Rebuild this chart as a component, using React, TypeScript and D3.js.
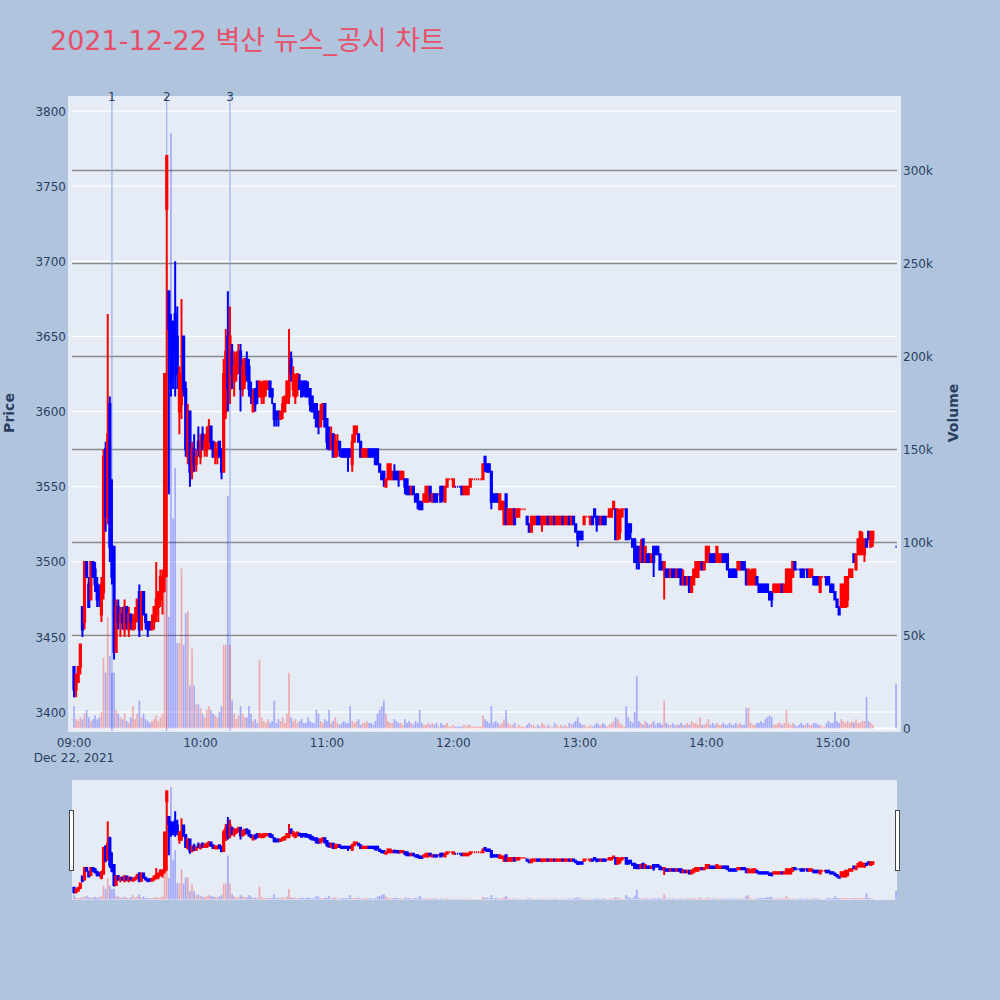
import React from 'react';
import * as d3 from 'd3';

// 1-minute bars of 2021-12-22, minutes after 09:00 (15:20-15:29 no trades, 15:30 closing auction)
const minutes = [...d3.range(0, 380), 390];

// [open, high, low, close]
const candles: [number, number, number, number][] = [
  [3430,3430,3410,3415],[3415,3425,3410,3425],[3420,3430,3420,3430],[3430,3445,3425,3445],[3470,3470,3450,3455],
  [3460,3500,3455,3500],[3500,3500,3490,3490],[3485,3490,3470,3470],[3475,3500,3475,3500],[3500,3500,3490,3490],
  [3495,3500,3480,3485],[3485,3490,3470,3475],[3480,3485,3470,3475],[3465,3490,3460,3485],[3480,3575,3475,3570],
  [3575,3580,3520,3530],[3530,3665,3525,3585],[3605,3610,3500,3510],[3510,3555,3485,3490],[3510,3510,3435,3440],
  [3440,3475,3440,3470],[3470,3475,3455,3460],[3460,3470,3450,3465],[3465,3470,3455,3460],[3455,3475,3450,3470],
  [3470,3470,3455,3460],[3455,3470,3450,3465],[3465,3465,3455,3460],[3455,3465,3455,3460],[3460,3470,3455,3465],
  [3465,3475,3460,3475],[3480,3485,3450,3455],[3455,3480,3455,3480],[3480,3480,3465,3465],[3465,3465,3455,3460],
  [3460,3460,3450,3455],[3460,3460,3455,3455],[3455,3465,3455,3460],[3460,3470,3455,3470],[3465,3500,3460,3475],
  [3470,3480,3460,3480],[3475,3495,3470,3490],[3480,3495,3465,3490],[3490,3625,3480,3625],[3735,3770,3490,3770],
  [3680,3680,3545,3655],[3655,3665,3610,3620],[3660,3660,3615,3625],[3665,3700,3610,3640],[3650,3670,3615,3625],
  [3600,3630,3585,3625],[3605,3675,3595,3620],[3650,3650,3610,3615],[3615,3620,3570,3575],[3570,3605,3565,3600],
  [3600,3600,3550,3560],[3560,3580,3555,3575],[3575,3585,3560,3565],[3565,3575,3560,3570],[3580,3590,3570,3575],
  [3570,3585,3565,3580],[3585,3590,3575,3575],[3575,3585,3570,3580],[3575,3590,3570,3585],[3580,3595,3575,3590],
  [3590,3590,3575,3580],[3580,3580,3570,3570],[3570,3580,3565,3575],[3570,3580,3565,3575],[3580,3580,3570,3570],
  [3575,3575,3555,3560],[3560,3635,3560,3625],[3600,3655,3595,3640],[3650,3680,3600,3615],[3615,3670,3605,3650],
  [3640,3645,3615,3625],[3620,3640,3610,3630],[3625,3640,3620,3635],[3630,3645,3625,3640],[3640,3645,3600,3615],
  [3615,3635,3610,3630],[3620,3635,3615,3635],[3635,3640,3620,3625],[3630,3635,3610,3615],[3615,3620,3605,3610],
  [3600,3615,3600,3610],[3615,3615,3600,3605],[3620,3620,3605,3610],[3610,3620,3610,3620],[3610,3620,3605,3615],
  [3610,3620,3605,3620],[3615,3620,3610,3620],[3615,3620,3615,3620],[3620,3620,3610,3610],[3615,3615,3605,3610],
  [3605,3605,3590,3595],[3600,3600,3590,3595],[3600,3600,3590,3595],[3595,3600,3595,3600],[3600,3610,3595,3605],
  [3600,3610,3600,3610],[3610,3620,3605,3620],[3610,3655,3605,3620],[3635,3640,3620,3625],[3615,3630,3610,3625],
  [3610,3625,3605,3620],[3615,3625,3610,3625],[3620,3625,3615,3615],[3620,3620,3610,3610],[3620,3620,3610,3615],
  [3620,3620,3610,3610],[3615,3620,3610,3610],[3615,3615,3600,3605],[3610,3610,3600,3600],[3605,3605,3595,3600],
  [3605,3605,3590,3590],[3600,3600,3585,3590],[3590,3605,3590,3600],[3595,3605,3595,3605],[3605,3605,3590,3590],
  [3595,3595,3575,3580],[3585,3590,3575,3575],[3575,3590,3575,3585],[3585,3585,3570,3570],[3570,3585,3570,3580],
  [3575,3585,3570,3580],[3580,3580,3570,3575],[3575,3575,3570,3570],[3575,3575,3570,3570],[3575,3575,3570,3570],
  [3575,3575,3560,3570],[3575,3575,3570,3570],[3565,3585,3560,3580],[3580,3590,3580,3590],[3585,3590,3585,3590],
  [3585,3585,3580,3580],[3580,3580,3570,3570],[3570,3575,3570,3575],[3570,3575,3570,3575],[3570,3575,3570,3575],
  [3575,3575,3570,3570],[3575,3575,3570,3570],[3575,3575,3570,3570],[3575,3575,3565,3565],[3575,3575,3565,3565],
  [3565,3565,3560,3560],[3560,3560,3555,3555],[3560,3560,3550,3555],[3550,3555,3550,3555],[3555,3565,3555,3565],
  [3555,3565,3555,3565],[3555,3560,3555,3560],[3560,3565,3555,3555],[3560,3560,3555,3555],[3560,3560,3550,3555],
  [3555,3560,3555,3560],[3555,3560,3555,3560],[3555,3555,3545,3550],[3555,3555,3545,3545],[3550,3550,3545,3545],
  [3545,3550,3545,3550],[3550,3550,3545,3545],[3545,3545,3540,3540],[3545,3545,3535,3540],[3540,3540,3535,3535],
  [3540,3540,3535,3535],[3540,3545,3540,3545],[3540,3550,3540,3550],[3540,3550,3540,3550],[3550,3550,3540,3545],
  [3540,3545,3540,3545],[3545,3545,3540,3540],[3545,3545,3540,3540],[3545,3545,3545,3545],[3550,3550,3540,3540],
  [3550,3550,3540,3545],[3540,3550,3540,3550],[3550,3555,3550,3555],[3555,3555,3555,3555],[3555,3555,3555,3555],
  [3550,3555,3550,3555],[3550,3550,3550,3550],[3550,3550,3550,3550],[3550,3550,3550,3550],[3550,3550,3545,3545],
  [3545,3550,3545,3550],[3545,3550,3545,3550],[3545,3550,3545,3550],[3550,3555,3550,3555],[3555,3555,3555,3555],
  [3555,3555,3555,3555],[3555,3555,3555,3555],[3555,3555,3555,3555],[3555,3555,3555,3555],[3555,3565,3555,3565],
  [3570,3570,3560,3565],[3565,3565,3560,3560],[3565,3565,3560,3560],[3560,3560,3535,3540],[3545,3545,3540,3540],
  [3545,3545,3540,3540],[3545,3545,3540,3540],[3535,3545,3535,3545],[3535,3540,3535,3540],[3525,3540,3525,3540],
  [3545,3545,3525,3525],[3525,3535,3525,3535],[3525,3535,3525,3535],[3525,3535,3525,3535],[3535,3535,3525,3525],
  [3530,3535,3530,3535],[3530,3535,3530,3535],[3535,3535,3535,3535],[3535,3535,3535,3535],[3535,3535,3535,3535],
  [3530,3530,3525,3525],[3525,3525,3520,3520],[3520,3530,3520,3530],[3525,3530,3525,3530],[3525,3530,3525,3530],
  [3530,3530,3525,3525],[3530,3530,3525,3525],[3525,3530,3520,3530],[3525,3530,3525,3530],[3525,3530,3525,3530],
  [3530,3530,3525,3525],[3525,3530,3525,3530],[3525,3530,3525,3530],[3530,3530,3525,3525],[3525,3530,3525,3530],
  [3525,3530,3525,3530],[3525,3530,3525,3530],[3530,3530,3525,3525],[3525,3530,3525,3530],[3525,3530,3525,3530],
  [3530,3530,3525,3525],[3525,3530,3525,3530],[3530,3530,3525,3525],[3525,3525,3520,3520],[3520,3520,3510,3515],
  [3520,3520,3515,3515],[3520,3520,3515,3515],[3525,3530,3525,3530],[3530,3530,3530,3530],[3530,3530,3530,3530],
  [3525,3530,3525,3530],[3530,3530,3525,3525],[3535,3535,3530,3530],[3530,3530,3520,3525],[3530,3530,3525,3525],
  [3525,3530,3525,3530],[3530,3530,3525,3525],[3530,3530,3525,3525],[3530,3530,3530,3530],[3530,3535,3530,3535],
  [3530,3535,3530,3535],[3535,3540,3535,3540],[3535,3535,3515,3515],[3515,3535,3515,3535],[3520,3535,3515,3530],
  [3530,3535,3530,3535],[3535,3535,3535,3535],[3535,3535,3515,3515],[3525,3525,3515,3515],[3525,3525,3515,3520],
  [3515,3515,3510,3510],[3515,3515,3500,3500],[3510,3510,3495,3500],[3510,3510,3495,3500],[3500,3515,3500,3510],
  [3515,3515,3500,3500],[3500,3510,3500,3510],[3505,3505,3500,3500],[3505,3505,3500,3500],[3500,3505,3500,3505],
  [3510,3510,3490,3500],[3510,3510,3505,3505],[3510,3510,3505,3505],[3505,3505,3495,3495],[3500,3500,3495,3495],
  [3495,3500,3475,3500],[3495,3495,3490,3490],[3495,3495,3490,3490],[3490,3495,3490,3495],[3495,3495,3490,3490],
  [3495,3495,3490,3490],[3490,3495,3490,3495],[3495,3495,3490,3490],[3495,3495,3485,3485],[3485,3495,3485,3490],
  [3490,3490,3485,3485],[3485,3490,3485,3490],[3490,3490,3480,3480],[3480,3490,3480,3490],[3485,3495,3485,3495],
  [3490,3500,3490,3500],[3490,3500,3490,3500],[3495,3500,3495,3500],[3500,3500,3495,3495],[3495,3500,3495,3500],
  [3500,3510,3500,3510],[3500,3510,3500,3510],[3505,3505,3500,3500],[3505,3505,3500,3500],[3505,3505,3500,3500],
  [3500,3510,3500,3510],[3500,3505,3500,3505],[3500,3505,3500,3505],[3505,3505,3500,3500],[3505,3505,3500,3500],
  [3505,3505,3495,3495],[3495,3495,3490,3490],[3495,3495,3490,3490],[3495,3495,3490,3490],[3495,3495,3490,3490],
  [3495,3500,3495,3500],[3495,3500,3495,3500],[3500,3500,3495,3495],[3500,3500,3495,3495],[3495,3495,3485,3485],
  [3485,3495,3485,3495],[3485,3495,3485,3490],[3485,3495,3485,3495],[3485,3495,3485,3495],[3490,3490,3485,3485],
  [3485,3485,3480,3480],[3485,3485,3480,3480],[3485,3485,3480,3480],[3485,3485,3480,3480],[3485,3485,3480,3480],
  [3480,3480,3475,3475],[3480,3480,3470,3475],[3480,3485,3480,3485],[3480,3485,3480,3485],[3480,3485,3480,3485],
  [3480,3485,3480,3485],[3485,3485,3480,3480],[3480,3485,3480,3485],[3480,3495,3480,3495],[3480,3495,3480,3495],
  [3480,3495,3480,3495],[3490,3500,3490,3500],[3500,3500,3495,3495],[3495,3495,3495,3495],[3495,3495,3495,3495],
  [3495,3495,3490,3490],[3495,3495,3490,3490],[3495,3495,3495,3495],[3495,3495,3490,3490],[3490,3495,3490,3495],
  [3490,3495,3490,3495],[3490,3490,3485,3485],[3490,3490,3485,3485],[3490,3490,3485,3485],[3480,3490,3480,3490],
  [3490,3490,3490,3490],[3490,3490,3490,3490],[3490,3490,3485,3485],[3490,3490,3485,3485],[3485,3485,3480,3480],
  [3485,3485,3480,3480],[3480,3480,3475,3475],[3475,3475,3470,3470],[3470,3470,3465,3465],[3470,3485,3470,3485],
  [3470,3485,3470,3485],[3470,3490,3470,3490],[3475,3490,3470,3490],[3490,3495,3490,3495],[3490,3495,3490,3495],
  [3505,3505,3500,3500],[3495,3505,3495,3505],[3505,3515,3505,3515],[3505,3520,3505,3520],[3505,3520,3505,3510],
  [3505,3515,3500,3515],[3515,3515,3510,3510],[3520,3520,3515,3515],[3510,3520,3510,3520],[3515,3520,3510,3520],
  [3510,3510,3510,3510],
];

// volume per minute, thousands of shares
const volumesK = [
  12,5,4,6,5,8,10,6,4,5, 7,5,6,9,38,30,60,39,30,30, 10,8,6,5,8,4,3,6,12,5, 8,15,6,8,5,4,3,4,5,7,
  4,6,8,150,250,60,320,113,140,46, 46,86,45,62,63,23,43,23,13,13, 11,8,6,10,12,10,8,7,6,9, 12,45,45,125,45,15,8,5,7,12,
  8,6,6,12,8,4,5,3,37,6, 4,3,5,3,4,15,3,5,4,6, 3,8,30,6,4,5,3,4,5,3, 3,6,4,3,3,10,8,4,3,5,
  4,10,3,4,6,3,2,3,4,3, 3,12,4,3,4,5,2,3,3,4, 3,3,2,4,8,10,12,15,8,4, 3,3,5,4,3,3,2,5,3,4,
  3,2,4,3,10,3,2,2,3,2, 3,2,3,1,3,2,2,3,1,1, 2,1,1,1,1,2,1,2,2,1, 1,1,1,1,7,5,4,3,12,3,
  4,3,2,3,5,10,3,2,2,3, 1,2,1,1,1,2,3,2,2,1, 2,1,3,2,1,2,1,1,3,2, 1,2,1,2,1,3,2,3,4,6,
  3,2,2,1,1,2,1,2,3,2, 2,3,2,1,2,3,4,6,5,3, 2,1,12,6,4,3,9,28,4,3, 2,4,3,2,3,4,2,3,3,2,
  15,3,2,2,3,2,2,2,3,2, 2,3,2,4,3,3,2,6,2,2, 3,5,2,3,2,3,2,2,3,2, 2,3,2,2,3,2,3,2,2,11,
  11,3,2,2,3,3,4,3,5,6, 7,6,2,2,3,3,2,3,10,3, 2,3,2,1,2,3,2,2,3,2, 2,3,3,2,2,1,1,3,4,3,
  3,9,4,3,5,4,3,4,3,4, 3,5,3,3,4,4,17,4,3,2,
  24,
];

const priceTicks = [3400, 3450, 3500, 3550, 3600, 3650, 3700, 3750, 3800];
const volumeTicks = [0, 50000, 100000, 150000, 200000, 250000, 300000];
const volumeTickLabels = ['0', '50k', '100k', '150k', '200k', '250k', '300k'];
const newsLabels = ['1', '2', '3'];
const newsTimes = ['09:18', '09:44', '10:14'];

const UP = '#ff0000';
const DOWN = '#0000ff';
const INK = '#2a3f5f';
const FONT = "'DejaVu Sans', Verdana, sans-serif";

const t0 = new Date(2021, 11, 22, 9, 0);
const at = (m: number) => new Date(t0.getTime() + m * 60000);
const parseHM = (s: string) => {
  const [h, m] = s.split(':').map(Number);
  return at((h - 9) * 60 + m);
};

// direction like plotly: doji follows previous close / previous direction
const bars = (() => {
  let prevC: number | null = null;
  let prevUp = true;
  return minutes.map((m, i) => {
    const [o, h, l, c] = candles[i];
    let up: boolean;
    if (c > o) up = true;
    else if (c < o) up = false;
    else if (prevC == null) up = true;
    else if (c > prevC) up = true;
    else if (c < prevC) up = false;
    else up = prevUp;
    prevC = c;
    prevUp = up;
    return { t: at(m), o, h, l, c, v: volumesK[i] * 1000, up };
  });
})();

const candlePath = (
  b: (typeof bars)[number],
  x: (d: Date) => number,
  y: (v: number) => number,
  hw: number
) => {
  const cx = x(b.t);
  const yo = y(b.o), yc = y(b.c);
  const top = Math.min(yo, yc), bot = Math.max(yo, yc);
  return `M${cx - hw},${top}H${cx + hw}V${bot}H${cx - hw}Z` +
    `M${cx},${top}V${y(b.h)}M${cx},${bot}V${y(b.l)}`;
};

export default function App() {
  const x = d3.scaleTime().domain([at(-0.95), at(390.45)]).range([72, 897]);
  const yPrice = d3.scaleLinear().domain([3387, 3810]).range([731.7, 96]);
  const yVol = d3.scaleLinear().domain([0, 340000]).range([728.5, 96]);

  const yPriceRS = d3.scaleLinear().domain(yPrice.domain()).range([900, 780]);
  const yVolRS = d3.scaleLinear().domain([yVol.invert(731.7), 340000]).range([900, 780]);

  const hourTicks = x.ticks(d3.timeHour.every(1)!).filter(d => d >= t0);
  const fmt = d3.timeFormat('%H:%M');
  const barW = 1.7;

  return (
    <svg width={1000} height={1000} style={{ position: 'absolute', left: 0, top: 0 }}
      fontFamily={FONT}>
      <rect width={1000} height={1000} fill="#b0c4de" />
      <text x={50} y={50} fontSize={27} fill="#e8506a"
        fontFamily="'DejaVu Sans', 'Noto Sans CJK KR', sans-serif">2021-12-22 벽산 뉴스_공시 차트</text>

      {/* main plot */}
      <rect x={68} y={96} width={833} height={636} fill="#e5ecf6" />
      {priceTicks.map(p => (
        <line key={p} x1={72} x2={897} y1={yPrice(p)} y2={yPrice(p)} stroke="#fff" strokeWidth={1.2} />
      ))}
      {volumeTicks.slice(1).map(v => (
        <line key={v} x1={72} x2={897} y1={yVol(v)} y2={yVol(v)} stroke="#8a8a8a" strokeWidth={1.5} />
      ))}
      <line x1={72} x2={897} y1={yVol(0)} y2={yVol(0)} stroke="#fff" strokeWidth={2} />

      {newsTimes.map((s, i) => (
        <line key={i} x1={x(parseHM(s))} x2={x(parseHM(s))} y1={96} y2={731}
          stroke="rgb(140,165,240)" strokeWidth={1} />
      ))}

      <g opacity={0.28}>
        {bars.map((b, i) => (
          <rect key={i} x={x(b.t) - barW / 2} width={barW} y={yVol(b.v)}
            height={yVol(0) - yVol(b.v)} fill={b.up ? UP : DOWN} />
        ))}
      </g>
      <g strokeWidth={2}>
        {bars.map((b, i) => (
          <path key={i} d={candlePath(b, x, yPrice, 0.6)}
            fill={b.up ? UP : DOWN} stroke={b.up ? UP : DOWN} />
        ))}
      </g>

      {newsLabels.map((s, i) => (
        <text key={i} x={x(parseHM(newsTimes[i]))} y={101} textAnchor="middle" fontSize={12} fill={INK}>{s}</text>
      ))}

      {/* axes */}
      {priceTicks.map(p => (
        <text key={p} x={66} y={yPrice(p) + 4.5} textAnchor="end" fontSize={12} fill={INK}>{p}</text>
      ))}
      {volumeTicks.map((v, i) => (
        <text key={v} x={903} y={yVol(v) + 4.5} fontSize={12} fill={INK}>{volumeTickLabels[i]}</text>
      ))}
      {hourTicks.map((d, i) => (
        <g key={i}>
          <text x={x(d)} y={747} textAnchor="middle" fontSize={12} fill={INK}>{fmt(d)}</text>
          {i === 0 && <text x={x(d)} y={762} textAnchor="middle" fontSize={12} fill={INK}>Dec 22, 2021</text>}
        </g>
      ))}
      <text transform="translate(14,413) rotate(-90)" textAnchor="middle" fontSize={14}
        fontWeight="bold" fill={INK}>Price</text>
      <text transform="translate(958,413) rotate(-90)" textAnchor="middle" fontSize={14}
        fontWeight="bold" fill={INK}>Volume</text>

      {/* range slider */}
      <rect x={72} y={780} width={825} height={120} fill="#e5ecf6" />
      <g opacity={0.28}>
        {bars.map((b, i) => (
          <rect key={i} x={x(b.t) - barW / 2} width={barW} y={yVolRS(b.v)}
            height={yVolRS(0) - yVolRS(b.v)} fill={b.up ? UP : DOWN} />
        ))}
      </g>
      <g strokeWidth={2}>
        {bars.map((b, i) => (
          <path key={i} d={candlePath(b, x, yPriceRS, 0.6)}
            fill={b.up ? UP : DOWN} stroke={b.up ? UP : DOWN} />
        ))}
      </g>
      <rect x={69.5} y={810.5} width={4} height={60} fill="#fff" stroke="#444" strokeWidth={1} />
      <rect x={895.5} y={810.5} width={4} height={60} fill="#fff" stroke="#444" strokeWidth={1} />
    </svg>
  );
}
